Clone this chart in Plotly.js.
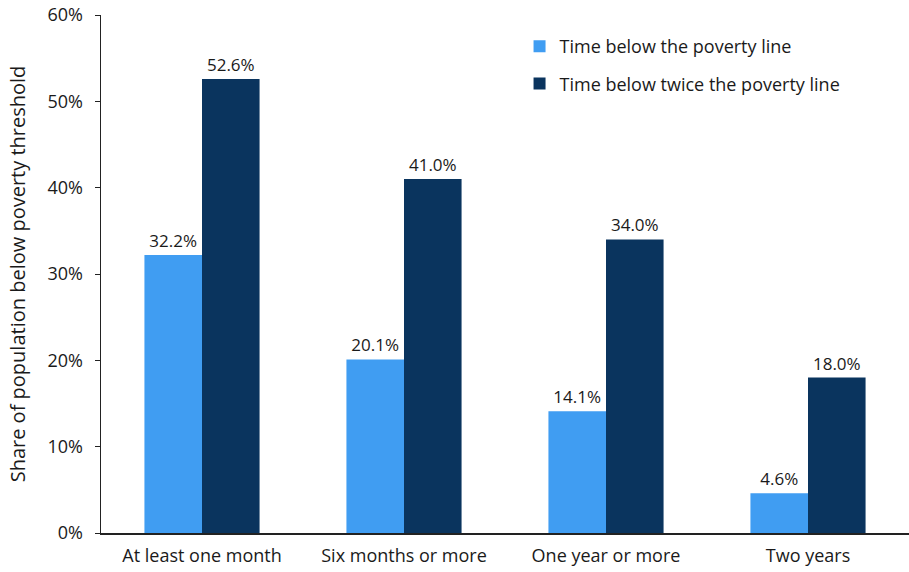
<!DOCTYPE html>
<html><head><meta charset="utf-8">
<script src="https://cdn.plot.ly/plotly-3.0.1.min.js"></script>
<style>html,body{margin:0;padding:0;background:#fff;}</style>
</head><body>
<div id="chart" style="width:909px;height:572px;"></div>
<script>
const categories = ["At least one month", "Six months or more", "One year or more", "Two years"];
const belowLine = [32.2, 20.1, 14.1, 4.6];
const belowTwice = [52.6, 41.0, 34.0, 18.0];
const seriesNames = ["Time below the poverty line", "Time below twice the poverty line"];
const yTickVals = [0, 10, 20, 30, 40, 50, 60];
const yTickText = ["0%", "10%", "20%", "30%", "40%", "50%", "60%"];

const font = "Open Sans, Noto Sans, sans-serif";
const traces = [
  {type: "bar", name: seriesNames[0], legendgroup: "a", x: categories, y: belowLine,
   marker: {color: "#409DF2"}, texttemplate: "%{y:.1f}%", textposition: "outside",
   textfont: {size: 17, color: "#1a1a1a", family: font}, cliponaxis: false},
  {type: "bar", name: seriesNames[1], legendgroup: "b", x: categories, y: belowTwice,
   marker: {color: "#0A345E"}, texttemplate: "%{y:.1f}%", textposition: "outside",
   textfont: {size: 17, color: "#1a1a1a", family: font}, cliponaxis: false}
];
const layout = {
  width: 909, height: 572,
  margin: {l: 101, r: 0, t: 15, b: 39, pad: 0},
  paper_bgcolor: "#fff", plot_bgcolor: "#fff",
  font: {family: font, size: 18, color: "#1a1a1a"},
  barmode: "group", bargap: 0.43, bargroupgap: 0,
  showlegend: true,
  legend: {x: 0.518, y: 0.975, xanchor: "left", yanchor: "top", bgcolor: "rgba(0,0,0,0)",
           font: {size: 18, family: font}, traceorder: "grouped", tracegroupgap: 11, itemwidth: 30},
  xaxis: {type: "category", range: [-0.5, 3.5], showline: true, linecolor: "#222", linewidth: 1.5,
          ticks: "", showgrid: false, zeroline: false, tickfont: {size: 18}, ticklabelstandoff: 6},
  yaxis: {range: [0, 60], tickvals: yTickVals, ticktext: yTickText, showline: true,
          linecolor: "#222", linewidth: 1.5, ticks: "outside", ticklen: 5, tickcolor: "#222",
          showgrid: false, zeroline: false, tickfont: {size: 18}, ticklabelstandoff: 8,
          title: {text: "Share of population below poverty threshold", font: {size: 20}, standoff: 16}}
};
Plotly.newPlot("chart", traces, layout, {displayModeBar: false, staticPlot: true});
</script>
</body></html>
